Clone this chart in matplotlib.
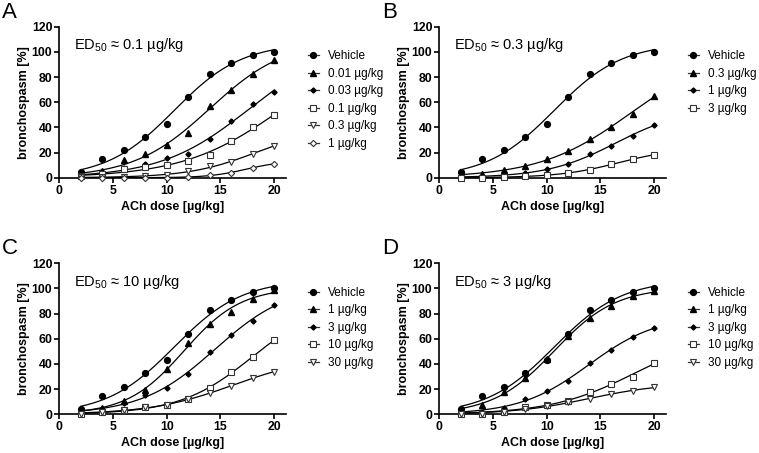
import numpy as np
import matplotlib
matplotlib.use("Agg")
import matplotlib.pyplot as plt
from matplotlib.lines import Line2D

plt.rcParams['font.family'] = ['Liberation Sans', 'DejaVu Sans']
plt.rcParams['mathtext.fontset'] = 'custom'
plt.rcParams['mathtext.rm'] = 'Liberation Sans'
plt.rcParams['mathtext.it'] = 'Liberation Sans'

# ---------------- data ----------------
ach_dose = [2, 4, 6, 8, 10, 12, 14, 16, 18, 20]
vehicle = [4.5, 14.5, 22, 32.5, 43, 64, 82.5, 91, 97.5, 100]

# Panel A
a_labels = ["Vehicle", "0.01 µg/kg", "0.03 µg/kg", "0.1 µg/kg", "0.3 µg/kg", "1 µg/kg"]
a_001 = [3, 5.5, 14, 18.8, 25.7, 35.5, 57, 69.7, 82.4, 93.5]
a_003 = [2, 4.5, 7.7, 10.6, 15.6, 18.5, 31, 45, 58.5, 68.3]
a_01 = [1.5, 3, 6.6, 8.7, 10, 13.2, 18.3, 29, 40, 50]
a_03 = [0.5, 0.5, 0.5, 1.3, 2, 5, 9, 12.5, 19, 25.4]
a_1 = [0, 0, 0, 0, 0, 0.5, 2, 4, 8, 11]

# Panel B
b_labels = ["Vehicle", "0.3 µg/kg", "1 µg/kg", "3 µg/kg"]
b_03 = [1, 3, 5.8, 9.3, 14.6, 21.5, 30.5, 40.3, 51, 65]
b_1 = [0.5, 1, 1.3, 3.4, 7, 10.6, 19, 25.4, 33.4, 41.9]
b_3 = [0, 0, 0.3, 1, 2.4, 3.7, 6.4, 10.6, 14.6, 18.3]

# Panel C
c_labels = ["Vehicle", "1 µg/kg", "3 µg/kg", "10 µg/kg", "30 µg/kg"]
c_1 = [2, 4.8, 10.6, 19.5, 36, 56.4, 72, 81, 92, 99]
c_3 = [1, 4.5, 9, 15, 20.7, 32, 49.8, 63.3, 74.2, 87]
c_10 = [0.5, 1.6, 3.7, 6, 7.7, 12.2, 21, 33.6, 45.8, 58.8]
c_30 = [0, 1.5, 3.5, 5.5, 7.4, 12, 16.7, 22.3, 29, 33.9]

# Panel D
d_labels = ["Vehicle", "1 µg/kg", "3 µg/kg", "10 µg/kg", "30 µg/kg"]
d_1 = [2, 7.7, 18, 29, 44, 62, 76.3, 86, 94, 97.7]
d_3 = [1, 2, 5, 12.5, 18.5, 26.8, 40.5, 51, 61.7, 68.6]
d_10 = [0.5, 0.5, 2, 5.8, 7.2, 10.3, 18, 24.4, 30, 41]
d_30 = [0, 0.5, 2, 4.2, 6.6, 9.8, 12.2, 15.9, 18.5, 21.7]

panel_letters = ["A", "B", "C", "D"]
ed50_texts = ["0.1", "0.3", "10", "3"]

# ---------------- styles ----------------
styles = {
    "circle": dict(marker="o", ms=4.2, mfc="black", mec="black"),
    "tri": dict(marker="^", ms=4.2, mfc="black", mec="black"),
    "dia": dict(marker="D", ms=2.6, mfc="black", mec="black"),
    "sq": dict(marker="s", ms=4.6, mfc="white", mec="#333333", mew=0.8),
    "tdown": dict(marker="v", ms=4.8, mfc="white", mec="#333333", mew=0.8),
    "odia": dict(marker="D", ms=3.2, mfc="white", mec="#333333", mew=0.8),
}

panels = [
    (a_labels, [vehicle, a_001, a_003, a_01, a_03, a_1],
     ["circle", "tri", "dia", "sq", "tdown", "odia"]),
    (b_labels, [vehicle, b_03, b_1, b_3], ["circle", "tri", "dia", "sq"]),
    (c_labels, [vehicle, c_1, c_3, c_10, c_30], ["circle", "tri", "dia", "sq", "tdown"]),
    (d_labels, [vehicle, d_1, d_3, d_10, d_30], ["circle", "tri", "dia", "sq", "tdown"]),
]


def fit_logistic(x, y):
    x = np.asarray(x, float)
    y = np.asarray(y, float)
    x50s = np.linspace(2, 45, 431)
    ss = np.linspace(0.8, 10, 185)
    X50, S = np.meshgrid(x50s, ss)
    f = 1.0 / (1.0 + np.exp(-(x[None, None, :] - X50[..., None]) / S[..., None]))
    top = np.clip((f * y).sum(-1) / (f * f).sum(-1), 0, 110)
    sse = ((top[..., None] * f - y) ** 2).sum(-1)
    i = np.unravel_index(np.argmin(sse), sse.shape)
    return top[i], X50[i], S[i]


W, H = 759, 453
fig = plt.figure(figsize=(W / 100, H / 100), dpi=100)

# axes boxes in pixels: left, right, top, bottom
boxes = [
    (59.3, 286.0, 26.7, 177.7),
    (439.3, 666.0, 26.7, 177.7),
    (59.3, 286.0, 263.3, 414.3),
    (439.3, 666.0, 263.3, 414.3),
]

xs = np.linspace(ach_dose[0], ach_dose[-1], 300)

for k, ((labels, series, mk), (l, r, t, b)) in enumerate(zip(panels, boxes)):
    ax = fig.add_axes([l / W, 1 - b / H, (r - l) / W, (b - t) / H])
    handles = []
    for lab, ys, m in zip(labels, series, mk):
        top, x50, s = fit_logistic(ach_dose, ys)
        curve = top / (1 + np.exp(-(xs - x50) / s))
        ax.plot(xs, curve, color="black", lw=0.9, zorder=2)
        ax.plot(ach_dose, ys, linestyle="none", clip_on=False, zorder=3, **styles[m])
        handles.append(Line2D([], [], color="#333333", lw=0.9, **styles[m]))
    ax.set_xlim(0, 21.1)
    ax.set_ylim(0, 120)
    ax.set_xticks([0, 5, 10, 15, 20])
    ax.set_yticks([0, 20, 40, 60, 80, 100, 120])
    for sp in ["top", "right"]:
        ax.spines[sp].set_visible(False)
    for sp in ["left", "bottom"]:
        ax.spines[sp].set_linewidth(1.2)
    ax.tick_params(direction="out", length=3.5, width=1.2, labelsize=8.8, pad=1.5)
    for tl in ax.get_xticklabels() + ax.get_yticklabels():
        tl.set_fontweight("bold")
    ax.set_xlabel("ACh dose [µg/kg]", fontsize=9, fontweight="bold", labelpad=3)
    ax.set_ylabel("bronchospasm [%]", fontsize=9, fontweight="bold", labelpad=1)
    ax.text(1.37, 105.5, r"ED$_{50}$ ≈ " + ed50_texts[k] + " µg/kg", fontsize=10.5,
            va="center", ha="left")
    leg = ax.legend(handles, labels, loc="upper left", bbox_to_anchor=(1.095, 0.845),
                    frameon=False, fontsize=8.5, handlelength=1.0, handletextpad=0.7,
                    labelspacing=0.47, borderaxespad=0, borderpad=0)
    fig.text((l - 57) / W, 1 - (t - 25) / H, panel_letters[k], fontsize=16,
             va="top", ha="left")

fig.savefig("out.png", dpi=100)
